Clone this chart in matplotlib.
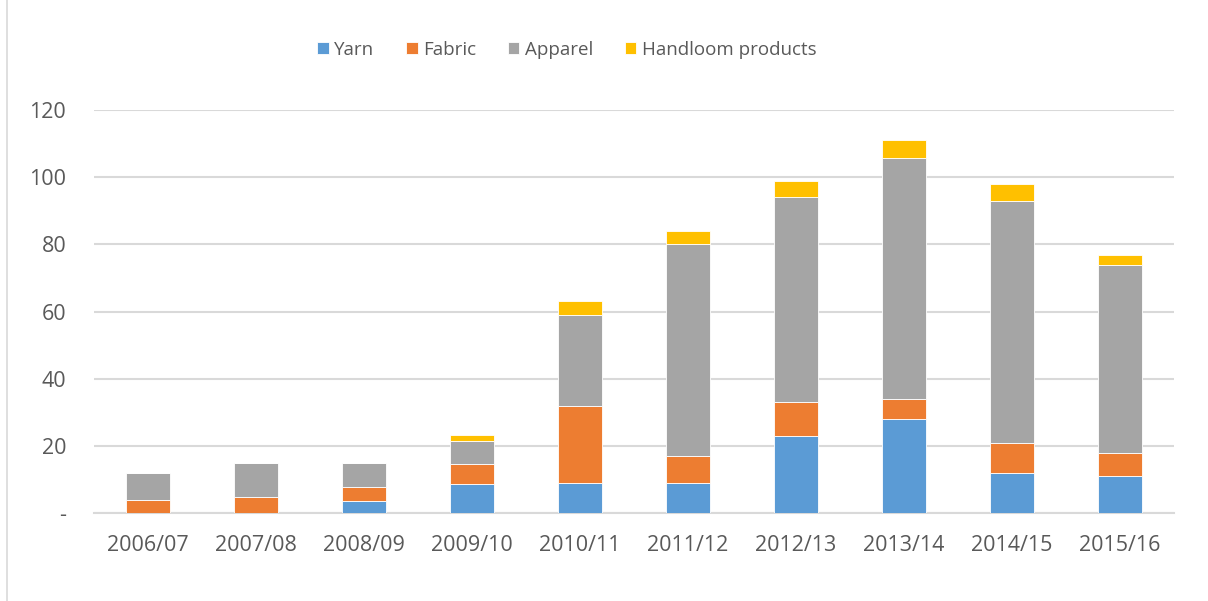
import matplotlib.pyplot as plt
import numpy as np

years = ["2006/07", "2007/08", "2008/09", "2009/10", "2010/11",
         "2011/12", "2012/13", "2013/14", "2014/15", "2015/16"]
yarn = [0, 0, 3.6, 8.5, 8.8, 8.8, 23, 28, 12, 10.9]
fabric = [4, 4.9, 4.2, 6, 23.1, 8.1, 10, 5.9, 8.9, 6.9]
apparel = [8, 10.1, 7, 6.9, 27.1, 63.1, 61, 71.9, 72, 56.1]
handloom = [0, 0, 0, 1.9, 4, 4, 5, 5.2, 5, 3]

series = [("Yarn", yarn, "#5b9bd5"),
          ("Fabric", fabric, "#ed7d31"),
          ("Apparel", apparel, "#a5a5a5"),
          ("Handloom products", handloom, "#ffc000")]

plt.rcParams['font.family'] = ['Open Sans', 'DejaVu Sans']
txt = "#595959"

fig = plt.figure(figsize=(12.08, 6.01), dpi=100)
ax = fig.add_axes([94 / 1208, 1 - 513 / 601, 1080 / 1208, 403 / 601])

x = np.arange(len(years))
bottom = np.zeros(len(years))
handles = []
for name, vals, col in series:
    b = ax.bar(x, vals, 0.4, bottom=bottom, color=col, edgecolor="white",
               linewidth=0.6, label=name, zorder=3)
    bottom += np.array(vals)
    handles.append(b)

ax.set_xlim(-0.5, len(years) - 0.5)
ax.set_ylim(0, 120)
ax.set_yticks(range(0, 121, 20))
ax.set_yticklabels(["-"] + [str(v) for v in range(20, 121, 20)])
ax.set_xticks(x)
ax.set_xticklabels(years)
ax.grid(axis="y", color="#d9d9d9", linewidth=1.5, zorder=0)
for s in ["top", "right", "left"]:
    ax.spines[s].set_visible(False)
ax.spines["bottom"].set_color("#d9d9d9")
ax.spines["bottom"].set_linewidth(1.5)
ax.tick_params(axis="both", length=0, labelsize=15.5, colors=txt)
ax.tick_params(axis="x", pad=16)
ax.tick_params(axis="y", pad=20)

fig.legend(handles, [s[0] for s in series], loc="center", ncol=4,
           bbox_to_anchor=(567 / 1208, 1 - 50 / 601), frameon=False, fontsize=13.5,
           labelcolor=txt, handlelength=0.6, handleheight=0.6,
           handletextpad=0.3, columnspacing=1.7)

fig.add_artist(plt.Line2D([7 / 1208, 7 / 1208], [0, 1], color="#d9d9d9",
                          linewidth=1.2, transform=fig.transFigure))

fig.savefig("out.png", dpi=100)
